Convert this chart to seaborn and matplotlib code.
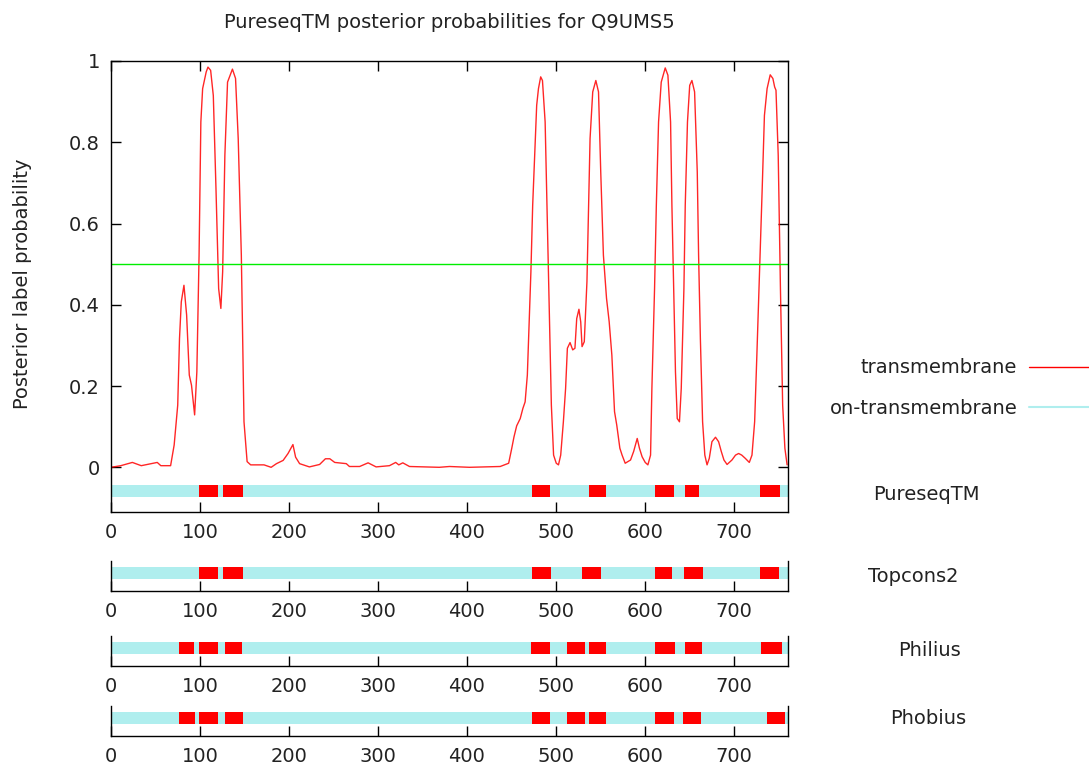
"""PureseqTM posterior probability plot with topology tracks from four predictors."""

import matplotlib
matplotlib.use("Agg")
import matplotlib.pyplot as plt
from matplotlib.lines import Line2D
import seaborn as sns

sns.set_style("white")
plt.rcParams["font.family"] = ["DejaVu Sans"]
plt.rcParams["xtick.direction"] = "in"
plt.rcParams["ytick.direction"] = "in"

SEQ_LEN = 761
THRESHOLD = 0.5

# posterior probability of the transmembrane label
residue = [0, 11, 24, 34, 52, 56, 67, 71, 75, 77, 79, 82, 85, 88, 90.5, 94, 96.5, 99, 101, 103,
           107, 109, 112, 115, 118, 121, 123.5, 125.5, 128, 131, 136.5, 140, 143, 146.5, 149.5,
           153, 157, 172, 180, 186, 193.5, 199, 204.5, 207.5, 212, 223, 234.5, 241, 246, 251.5,
           264.5, 268, 279.5, 289, 298, 313, 320, 323.5, 328, 335.5, 354, 369, 380.5, 403, 437.5,
           447, 450.5, 453, 456, 460, 463, 465.5, 468, 470, 472, 474, 477, 478.5, 480.5, 483, 485,
           488, 490.5, 493, 495, 497.5, 500.5, 503, 505.5, 508.5, 511, 513, 516, 519, 521.5,
           523.5, 526, 528, 529.5, 532, 533, 535, 536.5, 538.5, 541.5, 545, 548, 550.5, 553.5,
           557, 560, 563, 566, 568.5, 572, 574.5, 578, 584, 587.5, 591.5, 594, 597, 600.5, 603.5,
           606.5, 608, 611, 613, 615.5, 618.5, 623, 626, 629, 630.5, 632.5, 634.5, 636.5, 639,
           641, 644, 645.5, 648, 650.5, 653, 656, 659, 660.5, 662.5, 665, 667.5, 670, 672.5,
           675.5, 679.5, 683, 686, 689, 692.5, 698, 702, 705.5, 709, 713, 717.5, 720.5, 723.5,
           726, 729, 732, 734.5, 737.5, 741, 744, 746, 747.5, 750, 752.5, 755, 757.5, 760]
tm_prob = [0.0, 0.004, 0.012, 0.004, 0.012, 0.004, 0.004, 0.055, 0.153, 0.317, 0.407, 0.448,
           0.375, 0.227, 0.202, 0.129, 0.235, 0.522, 0.85, 0.932, 0.973, 0.985, 0.977, 0.915,
           0.686, 0.44, 0.391, 0.481, 0.768, 0.948, 0.98, 0.957, 0.809, 0.522, 0.112, 0.014,
           0.006, 0.006, 0.0, 0.009, 0.017, 0.034, 0.056, 0.025, 0.009, 0.001, 0.007, 0.021,
           0.021, 0.012, 0.009, 0.002, 0.002, 0.011, 0.001, 0.004, 0.012, 0.006, 0.011, 0.002,
           0.001, 0.0, 0.002, 0.0, 0.002, 0.01, 0.047, 0.075, 0.102, 0.12, 0.145, 0.161, 0.227,
           0.358, 0.481, 0.645, 0.809, 0.891, 0.932, 0.961, 0.952, 0.85, 0.604, 0.358, 0.153,
           0.03, 0.01, 0.006, 0.03, 0.112, 0.194, 0.293, 0.307, 0.289, 0.293, 0.366, 0.389,
           0.358, 0.297, 0.309, 0.358, 0.457, 0.604, 0.809, 0.924, 0.952, 0.924, 0.727, 0.522,
           0.416, 0.358, 0.276, 0.137, 0.104, 0.047, 0.03, 0.01, 0.018, 0.039, 0.071, 0.047,
           0.026, 0.012, 0.006, 0.03, 0.194, 0.44, 0.645, 0.85, 0.948, 0.983, 0.965, 0.85,
           0.645, 0.44, 0.235, 0.12, 0.112, 0.194, 0.44, 0.645, 0.85, 0.94, 0.952, 0.924,
           0.727, 0.522, 0.317, 0.112, 0.03, 0.006, 0.022, 0.063, 0.074, 0.063, 0.039, 0.018,
           0.007, 0.018, 0.03, 0.034, 0.03, 0.022, 0.012, 0.03, 0.112, 0.276, 0.481, 0.686,
           0.866, 0.932, 0.966, 0.957, 0.936, 0.928, 0.768, 0.44, 0.153, 0.047, 0.006]

# predicted transmembrane segments (start, end)
pureseqtm = [(99, 120), (126, 148), (473, 493), (537, 556), (612, 633), (645, 661), (729, 752)]
topcons2 = [(99, 120), (126, 148), (473, 495), (530, 551), (611, 631), (644, 666), (730, 751)]
philius = [(76, 93), (99, 120), (128, 147), (472, 493), (513, 533), (537, 556), (611, 634),
           (645, 664), (731, 754)]
phobius = [(76, 94), (99, 120), (128, 148), (473, 493), (513, 533), (537, 556), (611, 633),
           (643, 663), (737, 758)]

x_ticks = [0, 100, 200, 300, 400, 500, 600, 700]
y_ticks = [0, 0.2, 0.4, 0.6, 0.8, 1]
y_tick_labels = ["0", "0.2", "0.4", "0.6", "0.8", "1"]

TM_RED = "#ff0000"
NON_TM = "#afeeee"
TEXT = "#222222"
FS = 14

W, H = 1089, 769


def px_box(left, top, right, bottom):
    return [left / W, 1 - bottom / H, (right - left) / W, (bottom - top) / H]


def draw_track(ax, segments, y0, height):
    ax.broken_barh([(0, SEQ_LEN)], (y0, height), facecolor=NON_TM, edgecolor="none")
    ax.broken_barh([(s, e - s) for s, e in segments], (y0, height),
                   facecolor=TM_RED, edgecolor="none")


def style_axis(ax, box=False):
    ax.set_xlim(0, SEQ_LEN)
    ax.set_xticks(x_ticks)
    ax.set_xticklabels([str(t) for t in x_ticks])
    ax.tick_params(axis="both", which="major", direction="in", length=7, width=1,
                   labelsize=FS, pad=8, color="black", labelcolor=TEXT,
                   top=box, right=box, bottom=True, left=box)
    for sp in ax.spines.values():
        sp.set_color("black")
        sp.set_linewidth(1.0)


fig = plt.figure(figsize=(W / 100, H / 100), dpi=100)

# main panel
ax = fig.add_axes(px_box(111, 61, 788, 512))
sns.lineplot(x=residue, y=tm_prob, ax=ax, color=TM_RED, linewidth=1.0, alpha=0.85)
ax.axhline(THRESHOLD, color="#00ee00", linewidth=1.0)
draw_track(ax, pureseqtm, -0.074, 0.03)
style_axis(ax, box=True)
ax.set_ylim(-0.11, 1.0)
ax.set_yticks(y_ticks)
ax.set_yticklabels(y_tick_labels)
ax.set_ylabel("Posterior label probability", fontsize=FS, color=TEXT)
ax.yaxis.set_label_coords(-0.117, 0.505)
ax.set_title("PureseqTM posterior probabilities for Q9UMS5", fontsize=FS, pad=24, color=TEXT)

fig.text(926 / W, 1 - 494 / H, "PureseqTM", fontsize=FS, ha="center", va="center", color=TEXT)

# other predictors
tracks = [("Topcons2", topcons2, 561, 591, 913, 576),
          ("Philius", philius, 636, 666, 929, 651),
          ("Phobius", phobius, 706, 736, 928, 719)]
for name, segs, top, bottom, lx, ly in tracks:
    tax = fig.add_axes(px_box(111, top, 788, bottom))
    draw_track(tax, segs, 0.4, 0.4)
    style_axis(tax)
    tax.set_ylim(0, 1)
    tax.set_yticks([])
    tax.spines["top"].set_visible(False)
    fig.text(lx / W, 1 - ly / H, name, fontsize=FS, ha="center", va="center", color=TEXT)

handles = [Line2D([], [], color=TM_RED, linewidth=1.0),
           Line2D([], [], color=NON_TM, linewidth=1.5)]
fig.legend(handles, ["transmembrane", "on-transmembrane"], loc="center right",
           bbox_to_anchor=(1097 / W, 1 - 388 / H), frameon=False, markerfirst=False,
           handlelength=3.5, handletextpad=0.6, labelspacing=1.1, borderpad=0,
           borderaxespad=0, fontsize=FS, labelcolor=TEXT)

fig.savefig("out.png", dpi=100)
